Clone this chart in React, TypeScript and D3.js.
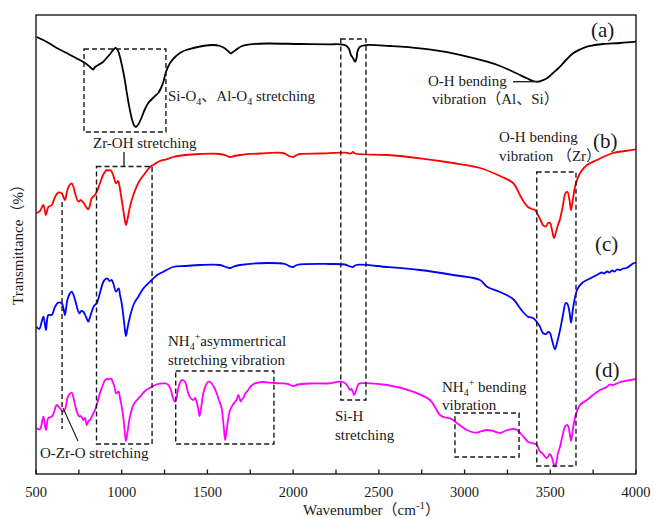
import React from "react";
import * as d3 from "d3";

// ---------- DATA (wavenumber cm-1, transmittance in arbitrary offset units) ----------
const X_TICKS = [500, 1000, 1500, 2000, 2500, 3000, 3500, 4000];

const SERIES_A_WN = [504,564,621,679,733,786,815,834,844,863,891,912,937,955,967,979,990,1002,1016,1029,1042,1058,1071,1083,1098,1117,1136,1155,1182,1213,1229,1243,1258,1282,1311,1340,1375,1418,1474,1533,1573,1603,1626,1638,1649,1673,1702,1748,1848,2040,2215,2273,2308,2326,2337,2349,2361,2370,2376,2390,2431,2565,2740,2933,3131,3207,3283,3364,3399,3428,3452,3481,3516,3557,3592,3633,3673,3714,3761,3808,3907,4000];
const SERIES_A_T = [437,432,426,421,416,411,407,404.5,407,409,412,416,421,425,426,423,417,408,396,382,369,356,349,347,350,357,365,371,376,381,386,392,402,411,417,421,424,426,428,429,428,425.5,422,420.5,422,425,428,429.7,430.5,430,429.7,429.7,428.5,425,419,416,412.3,416,423,427.3,429,428,425.7,420.7,412.3,408,402.3,395.7,393,392.3,393.5,395.7,401,407.3,414,420.7,424.5,427.3,429,430,431,432.3];

const SERIES_B_WN = [504,523,543,558,572,592,611,630,650,660,669,683,696,708,719,728,747,760,772,789,805,815,825,844,859,873,891,903,912,922,932,942,952,967,980,987,1000,1011,1019,1025,1034,1048,1066,1087,1107,1136,1165,1184,1223,1262,1299,1369,1457,1573,1608,1632,1655,1690,1807,1941,1976,1999,2022,2040,2157,2302,2337,2349,2361,2548,2740,2933,3090,3207,3283,3323,3346,3370,3393,3411,3428,3446,3457,3475,3487,3498,3510,3522,3533,3545,3557,3574,3589,3600,3612,3621,3633,3644,3673,3714,3772,3866,3936,4000];
const SERIES_B_T = [261,263,269,259,267,269,277,281.3,280.7,277,274,284,289,290.7,287,280.7,272.3,274,272.3,268,264.7,269,275.7,279,284,290.7,299,302.3,304,303.3,304,302.3,298,290.7,293,288,274,262,253,249,255,267.3,278,287.3,294,300.7,307,309,313,314.7,317,319,320,320,318.5,317,318,319,320.5,321,318,317,319,320,320.5,321.3,320.5,322,320.5,319,315.7,311,306,298,291,279,272,267,265,264,259,253,249,247.5,251,251,244,236,242,249,255,269,281,282,274,264,276,287,300.7,309,314,321,323,324.7];

const SERIES_C_WN = [504,519,543,558,572,592,611,630,650,660,669,683,696,708,719,728,753,763,776,792,805,815,825,838,854,873,893,906,916,929,942,952,967,982,990,1000,1011,1019,1025,1034,1048,1071,1097,1124,1165,1206,1243,1299,1369,1457,1573,1608,1632,1655,1690,1848,1952,1982,1999,2022,2215,2302,2332,2349,2367,2548,2740,2933,3090,3131,3207,3283,3323,3346,3370,3399,3417,3440,3457,3475,3487,3498,3510,3527,3539,3557,3574,3590,3600,3612,3621,3633,3656,3685,3714,3772,3800,3815,3831,3845,3860,3875,3890,3907,3925,3945,3983,4000];
const SERIES_C_T = [147.3,145,157.3,144,159,159,167.3,171.3,170.7,166,159,174,180,182.3,179,174,160.7,163,162.3,157,152.3,157,162.3,168,170.7,181,192.3,195,195.7,193,194,190,182.3,185.7,179,170.7,156,144,138,146,157.3,170,177.3,185,192.3,199,202.3,207,208,209,209,207,206,207.5,209,211,210,207.5,207,209,210,209.5,207.5,207,209,207,204,199,194,187.3,182,175,166,161,157.3,156,153,147.3,141,140,142,141,134,124.7,131,144,159,171,170,162,151.3,166,184,191,194,199,201.5,200.5,202.5,201.5,203.5,202.5,204.5,204,205.5,206,210.5,211.5];

const SERIES_D_WN = [504,523,543,558,572,592,605,621,640,659,672,683,696,708,719,728,739,753,763,776,786,796,806,815,830,844,859,873,888,903,914,928,938,947,958,967,982,990,1000,1011,1019,1025,1034,1048,1071,1107,1136,1175,1211,1243,1258,1272,1285,1297,1311,1320,1326,1337,1350,1360,1369,1378,1388,1401,1418,1428,1437,1448,1454,1463,1476,1489,1505,1515,1525,1538,1554,1567,1583,1591,1597,1603,1611,1620,1632,1647,1661,1670,1680,1687,1694,1702,1709,1719,1738,1754,1778,1819,1865,1923,1970,1999,2028,2098,2215,2273,2302,2320,2332,2340,2349,2355,2364,2372,2381,2390,2548,2699,2798,2857,2886,2915,2933,2956,2991,3014,3043,3073,3090,3131,3166,3207,3242,3265,3288,3306,3329,3352,3370,3388,3405,3422,3440,3452,3469,3481,3498,3510,3522,3527,3536,3545,3557,3571,3586,3600,3612,3621,3633,3644,3673,3714,3749,3790,3830,3845,3866,3900,3936,4000];
const SERIES_D_T = [45.7,44.7,57.3,44,56,57.3,62,69,65.7,62.3,66,75.7,80,81.3,76,69,62,57.3,58,54,56,49,53,54,59,64,72,80.7,88,94,95,94.7,95.5,92.3,87,80.7,82.3,76,67.3,54,40,33,42,57.3,70,77.3,83,87.3,90,90.7,90.5,89,85,77.3,72.3,76,82.3,90,94,93.5,92.3,88,80.7,76,74,76,72.3,64,58,66,80.7,88,92.3,92,90.7,87,80.7,74,65.7,54,44,34,42,54,64,69,72.3,74,79,76,72.3,75,75.7,80,84,88,90.7,92,91.3,90.7,90,88,89.5,90.5,90.7,92.3,91,87.3,84,85,82,79,82,86,90,90.7,89,82.3,74,59,56.5,55.7,54,50.7,46.5,44,42,41.5,42.3,44,43,41,43.5,44.7,45,44,40,35.7,32.3,31,30.7,29,22.3,21,17.3,16,20,16,9,7.3,12,21,27.3,38,47.3,49,42,33,46,56,69,74,79,84,87,89.5,89,91.5,93,95];

const SERIES = [
  { id: "a", wn: SERIES_A_WN, t: SERIES_A_T, color: "#000000" },
  { id: "b", wn: SERIES_B_WN, t: SERIES_B_T, color: "#ff0000" },
  { id: "c", wn: SERIES_C_WN, t: SERIES_C_T, color: "#0000ff" },
  { id: "d", wn: SERIES_D_WN, t: SERIES_D_T, color: "#ff00ff" },
];

// dashed annotation boxes in data coordinates [wn0, wn1, t0, t1]
const BOXES = [
  [780, 1258, 342, 425],
  [853, 1177, 30, 307.5],
  [1315, 1888, 30, 103],
  [2278, 2425, 74, 435],
  [2944, 3318, 17, 61],
  [3421, 3650, 8, 302],
];
// single dashed line for O-Zr-O
const OZRO_LINE = [652, 45, 272];

// ---------- LAYOUT ----------
const W = 654;
const H = 518;
const M = { left: 36, right: 636, top: 15, bottom: 474 };
const FONT = "'Liberation Serif', 'Times New Roman', 'Noto Sans CJK SC', serif";
const INK = "#1a1a1a";

export default function App() {
  const x = d3.scaleLinear().domain([500, 4000]).range([M.left, M.right]);
  const y = d3.scaleLinear().domain([0, 459]).range([M.bottom, M.top]);
  const line = d3
    .line<[number, number]>()
    .x((d) => x(d[0]))
    .y((d) => y(d[1]))
    .curve(d3.curveCatmullRom.alpha(0.5));

  const minor = d3.range(500, 4001, 250);

  const t15 = { fontFamily: FONT, fontSize: 15, fill: INK } as const;

  return (
    <div style={{ position: "absolute", left: 0, top: 0 }}>
      <svg width={W} height={H} style={{ display: "block", background: "#fff" }}>
        <rect x={0} y={0} width={W} height={H} fill="#fff" />
        {/* curves */}
        {SERIES.map((s) => (
          <path
            key={s.id}
            d={line(s.wn.map((w, i) => [w, s.t[i]] as [number, number])) || ""}
            fill="none"
            stroke={s.color}
            strokeWidth={1.8}
            strokeLinejoin="round"
          />
        ))}

        {/* dashed boxes */}
        {BOXES.map((b, i) => (
          <rect
            key={i}
            x={x(b[0])}
            y={y(b[3])}
            width={x(b[1]) - x(b[0])}
            height={y(b[2]) - y(b[3])}
            fill="none"
            stroke={INK}
            strokeWidth={1.4}
            strokeDasharray="5,3"
          />
        ))}
        <line
          x1={x(OZRO_LINE[0])}
          x2={x(OZRO_LINE[0])}
          y1={y(OZRO_LINE[2])}
          y2={y(OZRO_LINE[1])}
          stroke={INK}
          strokeWidth={1.4}
          strokeDasharray="5,3"
        />

        {/* leader lines */}
        <line x1={124} x2={124} y1={152} y2={166.5} stroke={INK} strokeWidth={1.3} />
        <line x1={513} x2={538} y1={81.7} y2={81.7} stroke={INK} strokeWidth={1.3} />
        <line x1={63} x2={78} y1={408} y2={441} stroke={INK} strokeWidth={1.1} />

        {/* frame */}
        <rect
          x={M.left}
          y={M.top}
          width={M.right - M.left}
          height={M.bottom - M.top}
          fill="none"
          stroke={INK}
          strokeWidth={1.4}
        />
        {minor.map((v) => (
          <line key={v} x1={x(v)} x2={x(v)} y1={M.bottom} y2={M.bottom - 4.5} stroke={INK} strokeWidth={1.3} />
        ))}
        {X_TICKS.map((v) => (
          <text key={v} x={x(v)} y={497} textAnchor="middle" {...t15} fontSize={14.5}>
            {v}
          </text>
        ))}

        {/* axis titles */}
        <text x={303} y={515} {...t15}>
          <tspan>Wavenumber（cm</tspan>
          <tspan dy={-6} fontSize={11}>-1</tspan>
          <tspan dy={6}>）</tspan>
        </text>
        <text transform="translate(23,241) rotate(-90)" textAnchor="middle" {...t15}>
          Transmittance（%）
        </text>

        {/* series labels */}
        <text x={591} y={37} {...t15} fontSize={21}>(a)</text>
        <text x={593} y={148} {...t15} fontSize={21}>(b)</text>
        <text x={595} y={251} {...t15} fontSize={21}>(c)</text>
        <text x={595} y={377} {...t15} fontSize={21}>(d)</text>

        {/* annotations */}
        <text x={168} y={101} {...t15}>
          <tspan>Si-O</tspan>
          <tspan dy={4} fontSize={10}>4</tspan>
          <tspan dy={-4}>、Al-O</tspan>
          <tspan dy={4} fontSize={10}>4</tspan>
          <tspan dy={-4}> stretching</tspan>
        </text>
        <text x={93} y={148} {...t15}>Zr-OH stretching</text>
        <text x={428} y={86} {...t15}>O-H bending</text>
        <text x={432} y={104} {...t15}>vibration（Al、Si）</text>
        <text x={499} y={142} {...t15}>O-H bending</text>
        <text x={499} y={161} {...t15}>vibration （Zr）</text>
        <text x={168} y={346} {...t15}>
          <tspan>NH</tspan>
          <tspan dy={4} fontSize={10}>4</tspan>
          <tspan dy={-10} fontSize={10}>+</tspan>
          <tspan dy={6}>asymmertrical</tspan>
        </text>
        <text x={168} y={365} {...t15}>stretching vibration</text>
        <text x={40} y={458} {...t15}>O-Zr-O stretching</text>
        <text x={335} y={421} {...t15}>Si-H</text>
        <text x={335} y={440} {...t15}>stretching</text>
        <text x={442} y={392} {...t15}>
          <tspan>NH</tspan>
          <tspan dy={4} fontSize={10}>4</tspan>
          <tspan dy={-10} fontSize={10}>+</tspan>
          <tspan dy={6}> bending</tspan>
        </text>
        <text x={442} y={410} {...t15}>vibration</text>
      </svg>
    </div>
  );
}
